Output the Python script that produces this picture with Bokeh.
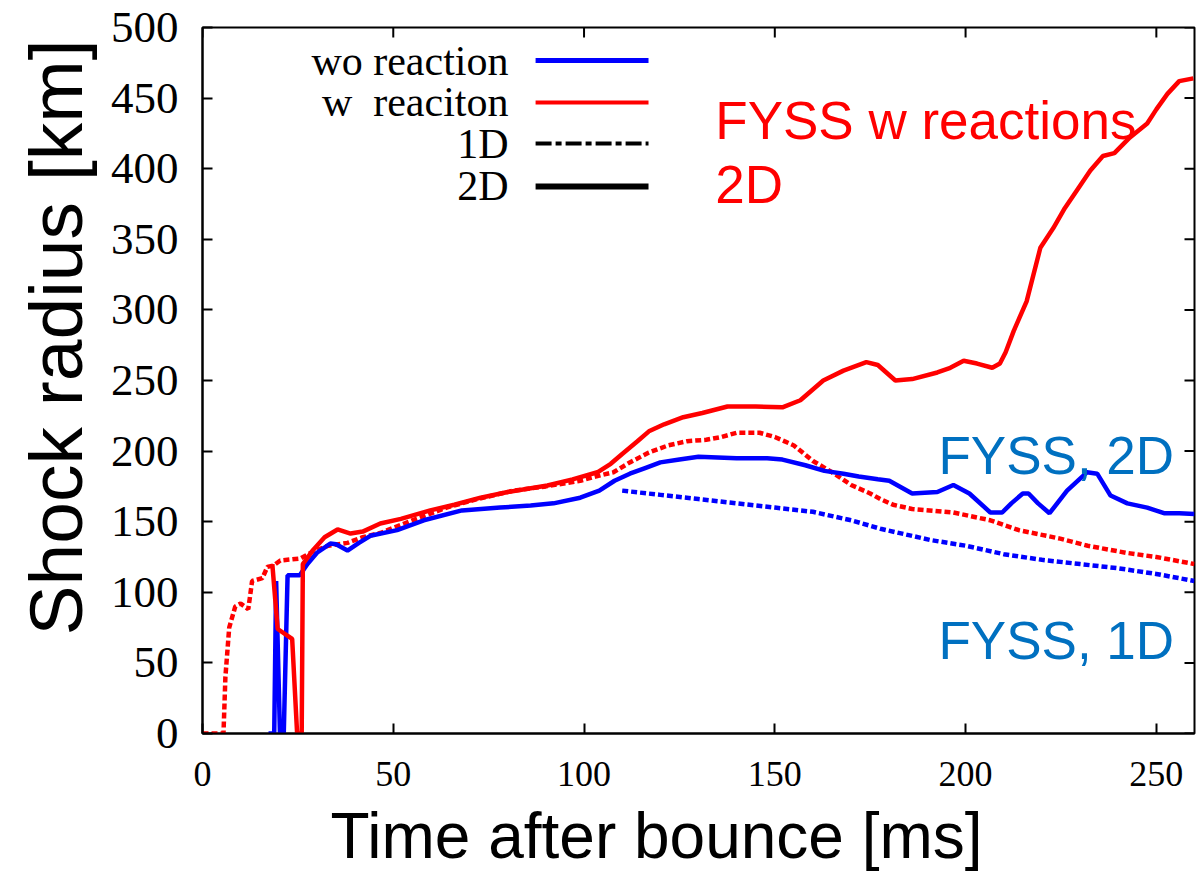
import math
from bokeh.plotting import figure
from bokeh.models import Range1d, Label, FixedTicker, Arrow, Title
from bokeh.embed import file_html
from bokeh.resources import INLINE

# ---- data ----
# 2D, with reactions (red solid)
t_w2d = [18.3, 19.7, 23.5, 24.8, 26.0, 26.3, 29, 32, 35.4, 38.8, 42, 46.6, 52, 59.7, 66, 72.9,
         80, 90.4, 97, 103.5, 107, 110, 114, 117, 121, 126, 131, 137.6, 145, 152, 156.7,
         162.7, 168, 174, 177, 181.6, 186, 192.6, 196, 199.5, 203, 207, 209, 210.5, 212.6,
         216, 219.6, 223, 226, 230, 232.7, 236, 239, 243, 247.6, 250, 252.9, 256, 259.7]
r_w2d = [120, 74, 67, 0, 0, 120, 130, 139, 144.5, 141.6, 143, 148.7, 152, 158, 162, 167,
         171, 175.6, 180, 185, 191, 198, 207, 214, 219, 224, 227, 231.6, 231.5, 231, 236,
         250, 257, 263, 261, 250, 251, 255.7, 259, 264, 262, 259, 262, 270, 285,
         306, 344, 358, 372, 388, 398.7, 409, 411, 422, 432, 442, 453, 462, 464]

# 1D, with reactions (red dotted)
t_w1d = [0, 5.5, 6, 7, 8.6, 10, 12, 13, 15.7, 17, 18.6, 20.4, 25.7, 29, 33, 38, 42, 46.6,
         55, 64, 72, 81.5, 90, 99, 103, 107.7, 112, 117, 122, 127, 132, 136, 140, 146,
         150, 155, 160, 165, 170, 175, 177.7, 181, 186, 196.8, 206.5, 214, 224.8, 232,
         242, 250, 260]
r_w1d = [0, 0, 40, 75, 90, 92, 88, 108, 110, 118, 119, 122.5, 124, 129, 133, 135, 139, 142,
         151, 160, 166, 172, 175, 179, 182, 185, 192, 199, 204, 207, 208, 210, 213, 213,
         210, 204, 193, 185, 176, 170, 166, 162, 159, 156.5, 151, 144, 138, 133,
         128, 125, 120]

# 2D, without reactions (blue solid)
t_wo2d = [17.3, 18.8, 19.3, 20.3, 21.3, 22.3, 25.5, 27.5, 30, 33.5, 35, 38, 41, 44, 51, 58,
          68, 78, 86, 92, 99, 104, 108, 112, 116, 120, 125, 130, 140, 148, 152, 158, 163,
          168, 172, 177, 180, 186, 192.6, 196.8, 201, 206.5, 209.6, 212, 215, 216.5, 219,
          222, 226.6, 231.8, 234.5, 238, 242.4, 247.6, 252, 256, 260]
r_wo2d = [0, 0, 108, 0, 0, 112, 112, 120, 128, 134.5, 134, 129.6, 135, 140, 144, 151,
          158, 160, 161.5, 163, 167, 172, 179, 184, 188, 192, 194, 196, 195, 195, 194, 190, 186,
          184, 182, 180, 179, 170, 171, 176, 170, 156.5, 156.5, 163, 170, 170, 163,
          156, 172, 185, 184, 168.5, 163, 160, 156, 156, 155.5]

# 1D, without reactions (blue dotted)
t_wo1d = [110, 120, 130, 140, 150, 160, 170, 177.7, 190.8, 200, 210, 220, 230, 240, 250, 260]
r_wo1d = [172, 169, 166, 163, 160, 157, 151, 145, 137, 133, 127, 123, 120, 117, 113, 108]

x_ticks = [0, 50, 100, 150, 200, 250]
y_ticks = [0, 50, 100, 150, 200, 250, 300, 350, 400, 450, 500]

legend_labels = ["wo reaction", "w\u00a0 reaciton", "1D", "2D"]

RED = "#FF0000"
BLUE = "#0000FF"
NOTE_BLUE = "#0070C0"
SERIF = "Liberation Serif"
SANS = "Liberation Sans"

X0, X1, Y0, Y1 = 0, 260, 0, 500

p = figure(width=1196, height=881, output_backend="svg", toolbar_location=None,
           x_range=Range1d(X0, X1), y_range=Range1d(Y0, Y1),
           min_border_left=202, min_border_right=2, min_border_top=27, min_border_bottom=148)
p.xgrid.visible = False
p.ygrid.visible = False
p.outline_line_color = "black"
p.outline_line_width = 2
p.background_fill_color = "white"
p.border_fill_color = "white"

for ax, ticks, size, standoff in ((p.xaxis[0], x_ticks, "36px", 28), (p.yaxis[0], y_ticks, "45px", 24)):
    ax.ticker = FixedTicker(ticks=ticks)
    ax.major_tick_in = 10
    ax.major_tick_out = 0
    ax.minor_tick_in = 0
    ax.minor_tick_out = 0
    ax.major_tick_line_width = 2
    ax.major_tick_line_color = "black"
    ax.axis_line_width = 2
    ax.axis_line_color = "black"
    ax.major_label_text_font = SERIF
    ax.major_label_text_font_size = size
    ax.major_label_text_color = "black"
    ax.major_label_standoff = standoff

# mirrored inward ticks on top and right edges (gnuplot style)
p.ray(x=x_ticks, y=[Y1] * len(x_ticks), length=10, length_units="screen",
      angle=-math.pi / 2, line_color="black", line_width=2)
p.ray(x=[X1] * len(y_ticks), y=y_ticks, length=10, length_units="screen",
      angle=math.pi, line_color="black", line_width=2)

# ---- curves ----
p.line(t_w1d, r_w1d, line_color=RED, line_width=4.5, line_dash="6 3")
p.line(t_wo1d, r_wo1d, line_color=BLUE, line_width=4.5, line_dash="6 3")
p.line(t_wo2d, r_wo2d, line_color=BLUE, line_width=4.5)
p.line(t_w2d, r_w2d, line_color=RED, line_width=4.5)

# ---- axis titles (as side titles so that they can be offset like the reference) ----
xt = Title(text="Time after bounce [ms]", text_font=SANS, text_font_size="64px",
           text_font_style="normal", text_color="black", align="left", offset=128,
           standoff=18)
yt = Title(text="Shock radius [km]", text_font=SANS, text_font_size="75px",
           text_font_style="normal", text_color="black", align="left", offset=98,
           standoff=20, text_line_height=0.6)
p.add_layout(xt, "below")
p.add_layout(yt, "left")

# ---- legend (gnuplot style: text left, sample right) ----
leg_text_x = 80.2
leg_x0, leg_x1 = 87.3, 116.9
leg_y = [476.6, 446.9, 417.8, 387.4]
leg_styles = [dict(line_color=BLUE, line_width=5),
              dict(line_color=RED, line_width=4),
              dict(line_color="black", line_width=4, line_dash="16 4 6 4"),
              dict(line_color="black", line_width=6)]
for lab, yy, st in zip(legend_labels, leg_y, leg_styles):
    p.add_layout(Label(x=leg_text_x, y=yy, text=lab, text_font=SERIF, text_font_size="42px",
                       text_align="right", text_baseline="middle", text_color="black"))
    p.add_layout(Arrow(end=None, start=None, x_start=leg_x0, y_start=yy, x_end=leg_x1, y_end=yy, **st))

# ---- annotations ----
notes = [("FYSS w reactions", 134.4, 434, RED),
         ("2D", 134.4, 389, RED),
         ("FYSS, 2D", 192.9, 197, NOTE_BLUE),
         ("FYSS, 1D", 192.9, 66, NOTE_BLUE)]
for txt, xx, yy, col in notes:
    p.add_layout(Label(x=xx, y=yy, text=txt, text_font=SANS, text_font_size="53px",
                       text_color=col, text_baseline="alphabetic", text_align="left"))

open("out.html", "w").write(file_html(p, INLINE))
